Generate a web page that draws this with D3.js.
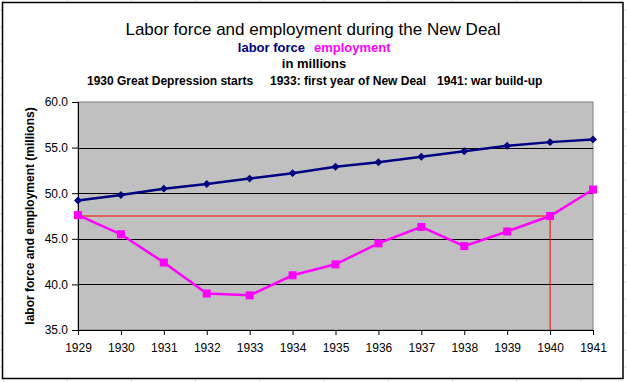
<!DOCTYPE html>
<html>
<head>
<script src="https://cdn.jsdelivr.net/npm/d3@7"></script>
<style>
body { margin:0; background:#fff; }
text { font-family: Arial, "Liberation Sans", sans-serif; }
</style>
</head>
<body>
<div id="chart"></div>
<script>
(function(){

var years = ["1929","1930","1931","1932","1933","1934","1935","1936","1937","1938","1939","1940","1941"];
var laborForce = [49.2, 49.8, 50.5, 51.0, 51.6, 52.2, 52.9, 53.4, 54.0, 54.6, 55.2, 55.6, 55.9];
var employment = [47.6, 45.5, 42.4, 39.0, 38.8, 41.0, 42.2, 44.5, 46.3, 44.2, 45.8, 47.5, 50.4];
var yTicks = [35, 40, 45, 50, 55, 60];
var refYear = "1940";

var w = 627, h = 382;
var left = 78, right = 593, top = 102, bottom = 330;

var svg = d3.select("#chart").append("svg")
    .attr("width", w).attr("height", h);

// faint spreadsheet cells behind the chart
for (var gx = 3; gx < w; gx += 64.2) {
  svg.append("line").attr("x1", gx).attr("x2", gx).attr("y1", 0).attr("y2", h)
     .attr("stroke", "#dedede");
}
for (var gy = 10; gy < h; gy += 17) {
  svg.append("line").attr("x1", 0).attr("x2", w).attr("y1", gy).attr("y2", gy)
     .attr("stroke", "#dedede");
}

svg.append("rect")
   .attr("x", 2.5).attr("y", 2.5).attr("width", 620.5).attr("height", 376)
   .attr("fill", "#fff").attr("stroke", "#000").attr("stroke-width", 1.5);

var x = d3.scalePoint().domain(years).range([left, right]);
var y = d3.scaleLinear().domain([35, 60]).range([bottom, top]);

// plot area
svg.append("rect")
   .attr("x", left).attr("y", top).attr("width", right-left).attr("height", bottom-top)
   .attr("fill", "#c0c0c0").attr("stroke", "#808080");

svg.selectAll(".grid")
   .data(yTicks.filter(function(d){ return d > 35 && d < 60; }))
   .enter().append("line")
   .attr("x1", left).attr("x2", right)
   .attr("y1", function(d){ return Math.round(y(d))+0.5; })
   .attr("y2", function(d){ return Math.round(y(d))+0.5; })
   .attr("stroke", "#000");

// reference lines at the 1940 employment level
var refVal = employment[years.indexOf(refYear)];
svg.append("line")
   .attr("x1", x(years[0])).attr("x2", x(refYear))
   .attr("y1", y(refVal)).attr("y2", y(refVal))
   .attr("stroke", "#ff0000");
svg.append("line")
   .attr("x1", x(refYear)).attr("x2", x(refYear))
   .attr("y1", y(refVal)).attr("y2", y(35))
   .attr("stroke", "#ff0000");

// axes
var yAxis = svg.append("g")
   .attr("transform", "translate(" + left + ",0)")
   .call(d3.axisLeft(y).tickValues(yTicks).tickSize(6).tickPadding(4)
         .tickFormat(d3.format(".1f")));
var xAxis = svg.append("g")
   .attr("transform", "translate(0," + bottom + ")")
   .call(d3.axisBottom(x).tickSize(5).tickPadding(8).tickSizeOuter(0));
[yAxis, xAxis].forEach(function(a){
  a.select(".domain").attr("stroke", "#000");
  a.selectAll(".tick line").attr("stroke", "#000");
  a.selectAll(".tick text").attr("fill", "#000")
   .style("font-family", "Arial, 'Liberation Sans', sans-serif").style("font-size", "12px");
});

// series
var line = d3.line()
   .x(function(d, i){ return x(years[i]); })
   .y(function(d){ return y(d); });

svg.append("path").datum(laborForce)
   .attr("d", line).attr("fill", "none")
   .attr("stroke", "#000080").attr("stroke-width", 2.5);
svg.append("path").datum(employment)
   .attr("d", line).attr("fill", "none")
   .attr("stroke", "#ff00ff").attr("stroke-width", 2.5);

svg.selectAll(".lf")
   .data(laborForce).enter().append("path")
   .attr("d", d3.symbol().type(d3.symbolDiamond2).size(40))
   .attr("transform", function(d, i){ return "translate(" + x(years[i]) + "," + y(d) + ")"; })
   .attr("fill", "#000080");
svg.selectAll(".em")
   .data(employment).enter().append("rect")
   .attr("x", function(d, i){ return x(years[i]) - 4; })
   .attr("y", function(d){ return y(d) - 4; })
   .attr("width", 8).attr("height", 8)
   .attr("fill", "#ff00ff");

// titles
svg.append("text").attr("x", 313).attr("y", 35)
   .attr("text-anchor", "middle").style("font-size", "17px")
   .text("Labor force and employment during the New Deal");
svg.append("text").attr("x", 305).attr("y", 52)
   .attr("text-anchor", "end").style("font-size", "13px").style("font-weight", "bold")
   .attr("fill", "#000080").text("labor force");
svg.append("text").attr("x", 314).attr("y", 52)
   .style("font-size", "13px").style("font-weight", "bold")
   .attr("fill", "#ff00ff").text("employment");
svg.append("text").attr("x", 314).attr("y", 68)
   .attr("text-anchor", "middle").style("font-size", "13px").style("font-weight", "bold")
   .text("in millions");

var notes = [["1930 Great Depression starts", 87], ["1933: first year of New Deal", 270], ["1941: war build-up", 437]];
svg.selectAll(".note").data(notes).enter().append("text")
   .attr("x", function(d){ return d[1]; }).attr("y", 85)
   .style("font-size", "12px").style("font-weight", "bold")
   .text(function(d){ return d[0]; });

svg.append("text")
   .attr("transform", "translate(34," + ((top+bottom)/2) + ") rotate(-90)")
   .attr("text-anchor", "middle").style("font-size", "12px").style("font-weight", "bold")
   .text("labor force and employment (millions)");

})();
</script>
</body>
</html>
